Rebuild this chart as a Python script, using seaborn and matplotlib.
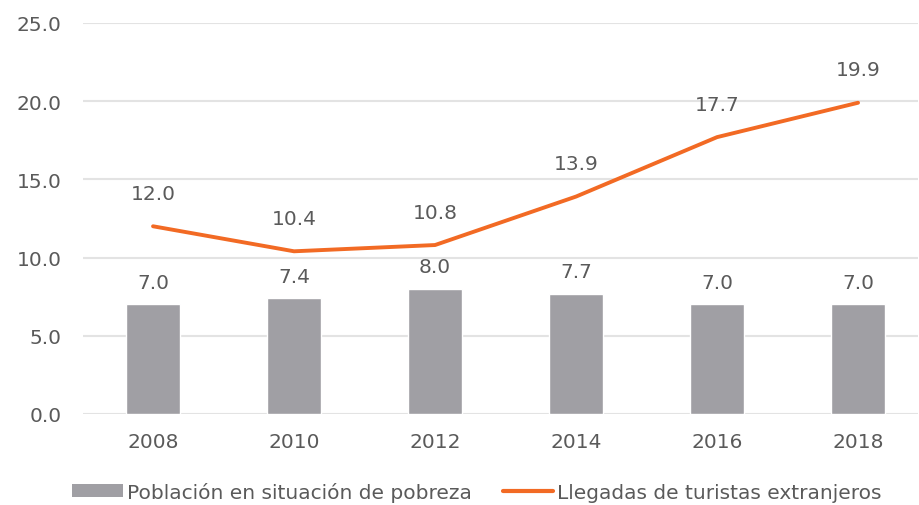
import matplotlib
matplotlib.use("Agg")
import matplotlib.pyplot as plt
import seaborn as sns
import numpy as np
import pandas as pd
from matplotlib.patches import Patch
from matplotlib.lines import Line2D

years = ["2008", "2010", "2012", "2014", "2016", "2018"]
pobreza = [7.0, 7.4, 8.0, 7.7, 7.0, 7.0]
turistas = [12.0, 10.4, 10.8, 13.9, 17.7, 19.9]
yticks = [0, 5, 10, 15, 20, 25]
label_bar = "Población en situación de pobreza"
label_line = "Llegadas de turistas extranjeros"

sns.set_theme(style="white")
plt.rcParams["font.family"] = ["DejaVu Sans"]

BAR = "#a09fa4"
ORANGE = "#f26a24"
TXT = "#5a5a5a"
FS = 14.5

df = pd.DataFrame({"year": years, "pobreza": pobreza, "turistas": turistas})
df["pos"] = np.arange(len(years))

fig = plt.figure(figsize=(9.19, 5.06), dpi=100)
ax = fig.add_axes([0.0898, 0.18, 0.9091, 0.7726])

sns.barplot(data=df, x="year", y="pobreza", color=BAR, width=0.385,
            saturation=1, ax=ax, zorder=2)
sns.lineplot(data=df, x="pos", y="turistas", color=ORANGE, linewidth=2.8,
             ax=ax, zorder=3)

for i, v in enumerate(pobreza):
    ax.annotate(f"{v:.1f}", (i, v), xytext=(0, 22), textcoords="offset pixels",
                ha="center", va="center", fontsize=FS, color=TXT)
for i, v in enumerate(turistas):
    ax.annotate(f"{v:.1f}", (i, v), xytext=(0, 33), textcoords="offset pixels",
                ha="center", va="center", fontsize=FS, color=TXT)

ax.set_ylim(0, 25)
ax.set_xlim(-0.5, 5.425)
ax.set_yticks(yticks)
ax.set_yticklabels([f"{t:.1f}" for t in yticks])
ax.set_xticks(range(len(years)))
ax.set_xticklabels(years)
ax.yaxis.grid(True, color="#e3e3e3", linewidth=1.5, zorder=0)
ax.set_axisbelow(True)
for s in ax.spines.values():
    s.set_visible(False)
ax.tick_params(axis="both", length=0, labelsize=FS, labelcolor=TXT)
ax.tick_params(axis="y", pad=15)
ax.tick_params(axis="x", pad=13)
ax.set_xlabel("")
ax.set_ylabel("")

handles = [Patch(facecolor=BAR, edgecolor="none"),
           Line2D([0], [0], color=ORANGE, linewidth=3)]
fig.legend(handles, [label_bar, label_line], loc="center",
           bbox_to_anchor=(0.519, 0.026), ncol=2, frameon=False,
           fontsize=14.5, labelcolor=TXT, handlelength=2.5, handleheight=0.65,
           handletextpad=0.2, columnspacing=1.55)

fig.savefig("out.png", dpi=100)
